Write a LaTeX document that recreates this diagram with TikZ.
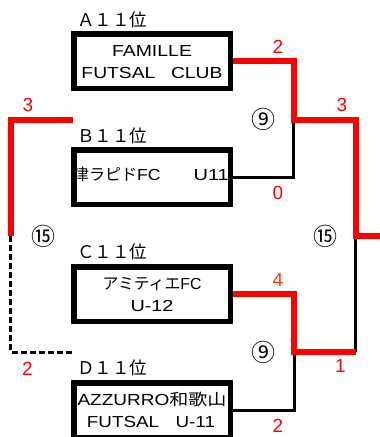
\documentclass[tikz,border=0pt]{standalone}
\usepackage{fontspec}
\usepackage{graphicx}
\setmainfont{Liberation Sans}
\newfontfamily\jp{Noto Sans CJK JP}
\newcommand\fitw[2]{\resizebox{#1}{\height}{#2}}
\definecolor{winred}{RGB}{255,0,0}
\definecolor{orangered}{RGB}{255,60,0}
\begin{document}
\begin{tikzpicture}[x=1pt,y=-1pt,
  team/.style={draw=black, line width=5.5pt, minimum width=156.5pt, minimum height=54.5pt, inner sep=0pt, shape=rectangle},
  seed/.style={anchor=base west, inner sep=0pt, font=\jp\fontsize{17.5}{17.5}\selectfont},
  txt/.style={anchor=base, inner sep=0pt, font=\fontsize{16}{16}\selectfont},
  score/.style={inner sep=0pt, text=winred, font=\fontsize{19}{19}\selectfont},
  game/.style={inner sep=0pt, font=\jp\fontsize{24}{24}\selectfont},
  win/.style={draw=winred, line width=6pt},
  lose/.style={draw=black, line width=3pt},
  pend/.style={draw=black, line width=3pt, dash pattern=on 6pt off 3pt}
]
\useasboundingbox (0,0) rectangle (380,437);

% team boxes
\node[team] (A) at (152,61) {};
\node[team] (B) at (152,177) {};
\node[team] (C) at (152,294) {};
\node[team] (D) at (152,410) {};

% seed labels
\node[seed] (la) at (77,26.5) {Ａ１１位};
\node[seed] (lb) at (77,142) {Ｂ１１位};
\node[seed] (lc) at (77,258.5) {Ｃ１１位};
\node[seed] (ld) at (77,374.5) {Ｄ１１位};

% team names
\node[txt] (a1) at (152,56.75) {\fitw{80pt}{FAMILLE}};
\node[txt] (a2) at (152,78.25) {\fitw{141pt}{FUTSAL\hspace{13pt}CLUB}};
\begin{scope}
  \clip (B.south west) rectangle (B.north east);
  \node[txt, anchor=base west] (b1) at (73,180) {{\jp 津ラピド}\scalebox{1.1}[1]{FC}\hspace{33pt}\scalebox{1.25}[1]{U11}};
\end{scope}
\node[txt] (c1) at (152,289.75) {\fitw{99pt}{{\jp アミティエ}FC}};
\node[txt] (c2) at (152,311.25) {\fitw{43pt}{U-12}};
\node[txt] (d1) at (152,405.75) {\fitw{149pt}{AZZURRO{\jp 和歌山}}};
\node[txt] (d2) at (151,427.25) {\fitw{128pt}{FUTSAL\hspace{14pt}U-11}};

% junction coordinates
\coordinate (j1a) at (293.5,61);
\coordinate (j1) at (293.5,119.5);
\coordinate (j1b) at (293.5,177);
\coordinate (j2a) at (294,294);
\coordinate (j2) at (294,352);
\coordinate (j2b) at (294,410);
\coordinate (f1) at (355.5,119.5);
\coordinate (f) at (355.5,235.5);
\coordinate (f2) at (355.5,352);
\coordinate (out) at (381,235.5);
\coordinate (lt) at (73,119.5);
\coordinate (ltc) at (10.5,119.5);
\coordinate (lm) at (10.5,236);
\coordinate (lbc) at (10.5,352);
\coordinate (lb) at (73,352);

% losing / pending lines
\draw[lose] (B.east) -- (j1b) -- (j1);
\draw[lose] (D.east) -- (j2b) -- (j2);
\draw[lose] (f2) -- (f);
\draw[pend] (lm) -- (lbc) -- (lb);

% winning lines
\draw[win] (A.east) -- (j1a) -- (j1) -- (f1) -- (f) -- (out);
\draw[win] (C.east) -- (j2a) -- (j2) -- (f2);
\draw[win] (lt) -- (ltc) -- (lm);

% scores
\node[score] (s1) at (278,46.5) {2};
\node[score] (s2) at (278,192.5) {0};
\node[score] (s3) at (342,105) {3};
\node[score, text=orangered] (s4) at (278,280) {4};
\node[score] (s5) at (278,425.5) {2};
\node[score] (s6) at (340.5,365.5) {1};
\node[score] (s7) at (28,104.5) {3};
\node[score] (s8) at (27.5,369) {2};

% game numbers
\node[game] (g1) at (263,119) {⑨};
\node[game] (g2) at (263,352) {⑨};
\node[game] (g3) at (325.5,236) {⑮};
\node[game] (g4) at (43.5,236) {⑮};
\end{tikzpicture}
\end{document}
